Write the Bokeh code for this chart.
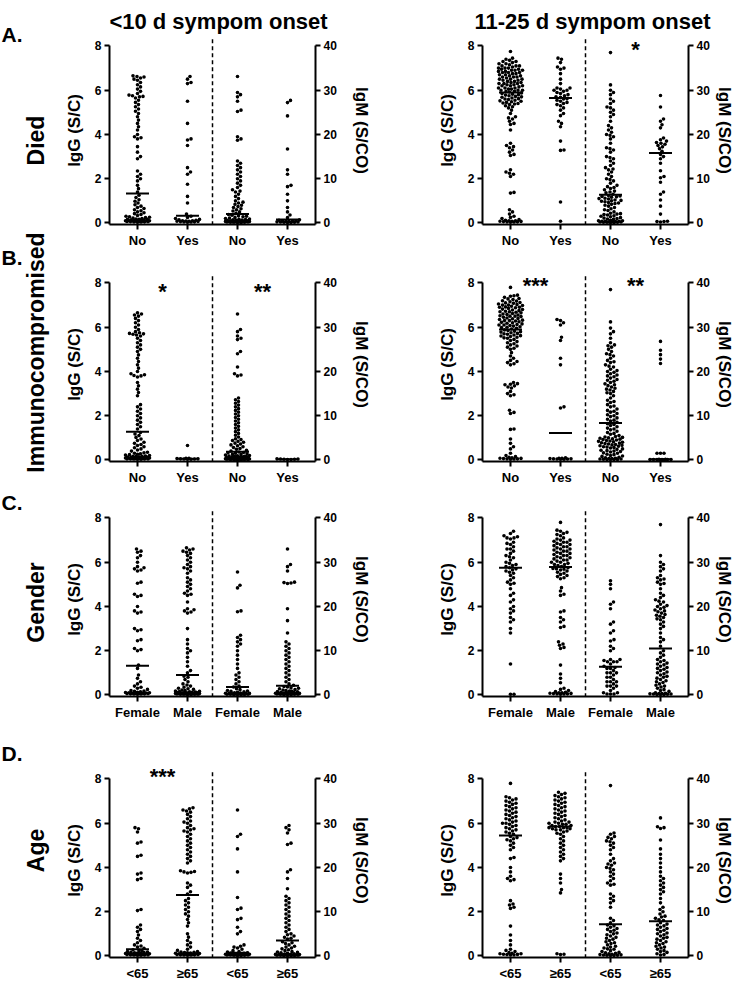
import numpy as np
from bokeh.plotting import figure
from bokeh.models import Range1d, LinearAxis, FixedTicker
from bokeh.layouts import row, column
from bokeh.core.properties import value
from bokeh.embed import file_html
from bokeh.resources import INLINE

FONT = "Liberation Sans"

# ---------------- data ----------------
column_titles = ["<10 d sympom onset", "11-25 d sympom onset"]
row_letters = ["A.", "B.", "C.", "D."]
row_names = ["Died", "Immunocompromised", "Gender", "Age"]
died_categories = ["No", "Yes", "No", "Yes"]
immuno_categories = ["No", "Yes", "No", "Yes"]
gender_categories = ["Female", "Male", "Female", "Male"]
age_categories = ["<65", "\u226565", "<65", "\u226565"]
igg_ticks = [0, 2, 4, 6, 8]
igm_ticks = [0, 10, 20, 30, 40]

# Row A: Died
died_early_igg_no = [0.03,0.04,0.05,0.05,0.06,0.06,0.07,0.07,0.08,0.08,0.09,0.09,0.1,0.1,0.1,0.11,0.12,0.12,0.13,0.14,0.15,0.16,0.17,0.18,0.2,0.22,0.24,0.26,0.28,0.3,0.34,0.38,0.42,0.46,0.5,0.55,0.6,0.65,0.7,0.76,0.82,0.9,0.98,1.05,1.15,1.25,1.4,1.55,1.7,1.9,2.0,2.1,2.2,2.35,2.9,3.0,3.2,3.45,3.8,3.85,3.9,4.0,4.2,4.35,4.5,4.65,4.8,4.95,5.05,5.15,5.25,5.35,5.45,5.55,5.65,5.7,5.72,5.75,5.78,5.85,5.95,6.05,6.15,6.25,6.35,6.45,6.5,6.55,6.6,6.62,6.65]
died_early_igg_yes = [0.03,0.04,0.05,0.05,0.06,0.07,0.08,0.08,0.09,0.1,0.1,0.12,0.14,0.16,0.2,0.25,0.3,0.4,0.9,1.2,1.75,2.2,2.3,2.5,3.5,3.75,3.8,4.5,5.5,6.3,6.35,6.5,6.62]
died_early_igm_no = [0.1,0.1,0.15,0.15,0.15,0.2,0.2,0.2,0.25,0.25,0.25,0.3,0.3,0.35,0.35,0.4,0.4,0.45,0.45,0.5,0.5,0.55,0.6,0.65,0.7,0.75,0.8,0.9,1.0,1.1,1.25,1.4,1.5,1.6,1.75,1.9,2.2,2.5,2.7,3.0,3.2,3.5,3.7,4.0,4.2,4.5,4.7,5.0,5.5,6.0,6.5,7.0,7.2,7.5,8.0,8.5,9.0,9.5,10.0,10.5,11.0,11.5,12.0,12.5,13.0,13.5,14.0,18.7,19.0,19.5,25.2,25.5,27.5,28.5,29.0,29.5,33.1]
died_early_igm_yes = [0.1,0.1,0.15,0.15,0.2,0.2,0.25,0.3,0.35,0.4,0.45,0.5,0.6,0.7,1.2,1.8,2.5,3.5,5.0,6.5,8.2,8.5,11.0,12.0,16.7,24.2,27.2,27.7]
died_late_igg_no = [0.03,0.04,0.05,0.05,0.06,0.07,0.08,0.08,0.1,0.1,0.12,0.15,0.2,0.25,0.3,0.4,0.5,0.6,1.35,1.38,2.1,2.2,2.25,2.3,2.4,3.05,3.1,3.2,3.3,3.4,3.45,3.5,3.6,4.2,4.45,4.5,4.6,4.7,4.75,4.8,4.95,5.1,5.2,5.25,5.3,5.35,5.38,5.4,5.42,5.45,5.48,5.5,5.52,5.55,5.58,5.6,5.62,5.65,5.68,5.7,5.72,5.75,5.78,5.8,5.82,5.85,5.88,5.92,5.95,5.95,6.0,6.0,6.0,6.05,6.05,6.1,6.1,6.1,6.15,6.2,6.2,6.2,6.25,6.25,6.3,6.3,6.3,6.35,6.35,6.4,6.4,6.45,6.45,6.5,6.5,6.5,6.55,6.6,6.6,6.6,6.65,6.65,6.7,6.7,6.75,6.75,6.8,6.8,6.8,6.85,6.85,6.9,6.9,6.9,6.95,6.95,7.0,7.0,7.0,7.05,7.1,7.1,7.1,7.15,7.2,7.2,7.25,7.3,7.3,7.35,7.4,7.45,7.75]
died_late_igg_yes = [0.08,0.95,3.28,3.3,3.7,4.35,4.5,4.6,4.85,4.95,5.1,5.2,5.3,5.35,5.4,5.45,5.5,5.55,5.6,5.62,5.68,5.7,5.75,5.8,5.85,5.9,5.95,6.0,6.0,6.05,6.1,6.1,6.3,6.5,6.75,6.95,7.0,7.05,7.25,7.4,7.45]
died_late_igm_no = [0.1,0.1,0.15,0.15,0.15,0.2,0.2,0.25,0.25,0.3,0.35,0.4,0.4,0.5,0.5,0.6,0.8,0.9,1.0,1.1,1.2,1.4,1.5,1.6,1.8,1.9,2.0,2.1,2.2,2.5,2.8,3.0,3.2,3.5,3.8,4.0,4.2,4.4,4.5,4.6,4.8,4.9,5.0,5.1,5.2,5.4,5.5,5.6,5.8,5.9,6.0,6.1,6.2,6.5,6.8,7.0,7.2,7.5,7.8,8.0,8.2,8.5,9.0,9.5,9.8,10.0,10.5,11.0,11.5,12.0,12.2,12.5,13.0,13.5,14.0,14.5,14.8,15.0,16.0,16.5,16.8,17.0,18.0,19.0,19.5,19.8,20.0,20.5,21.0,21.5,22.0,23.0,24.0,24.5,25.0,25.5,26.0,26.2,27.0,27.5,28.0,29.0,29.5,30.0,31.2,38.5]
died_late_igm_yes = [0.2,0.3,0.3,0.4,2.0,3.8,5.2,6.5,7.0,9.2,10.2,10.5,11.8,13.5,14.5,15.0,15.5,16.2,16.8,17.2,17.5,17.8,18.0,18.2,18.5,18.8,19.2,21.5,22.2,23.0,23.5,26.2,28.8]

# Row B: Immunocompromised
immuno_early_igg_no = [0.03,0.03,0.04,0.04,0.05,0.05,0.05,0.06,0.06,0.07,0.07,0.08,0.08,0.09,0.09,0.1,0.1,0.1,0.11,0.12,0.12,0.13,0.14,0.15,0.16,0.17,0.18,0.2,0.22,0.24,0.26,0.28,0.3,0.32,0.35,0.4,0.45,0.5,0.55,0.6,0.65,0.7,0.75,0.8,0.88,0.95,1.02,1.1,1.17,1.24,1.4,1.5,1.6,1.7,1.8,1.9,2.0,2.1,2.2,2.3,2.4,2.5,2.9,3.05,3.2,3.35,3.5,3.75,3.8,3.82,3.85,3.9,4.0,4.15,4.3,4.45,4.6,4.75,4.9,5.0,5.1,5.2,5.3,5.4,5.5,5.6,5.65,5.68,5.7,5.72,5.75,5.8,5.9,6.0,6.1,6.2,6.3,6.4,6.5,6.55,6.6,6.65]
immuno_early_igg_yes = [0.03,0.03,0.04,0.04,0.05,0.05,0.06,0.07,0.08,0.65]
immuno_early_igm_no = [0.1,0.1,0.1,0.1,0.1,0.1,0.15,0.15,0.15,0.15,0.2,0.2,0.2,0.2,0.25,0.25,0.25,0.3,0.3,0.3,0.35,0.35,0.4,0.4,0.45,0.45,0.5,0.5,0.55,0.6,0.65,0.7,0.75,0.8,0.85,0.9,0.95,1.0,1.1,1.2,1.3,1.4,1.5,1.6,1.7,1.8,2.0,2.2,2.4,2.6,2.8,3.0,3.2,3.4,3.6,3.8,4.0,4.2,4.4,4.6,4.8,5.2,5.6,6.0,6.4,6.8,7.2,7.6,8.0,8.4,8.8,9.2,9.6,10.0,10.4,10.8,11.2,11.6,12.0,12.4,12.8,13.2,13.6,14.0,19.0,19.2,19.5,21.0,24.0,24.5,27.2,27.5,28.0,29.0,29.5,33.0]
immuno_early_igm_yes = [0.1,0.1,0.15,0.15,0.2,0.2,0.25]
immuno_late_igg_no = [0.03,0.04,0.05,0.05,0.06,0.07,0.08,0.1,0.12,0.15,0.2,0.3,0.5,0.6,0.75,0.95,1.38,1.4,2.1,2.15,2.25,2.9,2.95,3.0,3.1,3.25,3.3,3.35,3.4,3.42,3.45,3.5,4.3,4.35,4.4,4.45,4.5,4.6,4.7,4.85,5.0,5.05,5.1,5.15,5.2,5.25,5.3,5.35,5.4,5.45,5.5,5.52,5.55,5.58,5.6,5.62,5.65,5.68,5.7,5.72,5.75,5.78,5.8,5.82,5.85,5.88,5.92,5.95,5.98,6.0,6.02,6.05,6.08,6.1,6.1,6.12,6.15,6.18,6.2,6.22,6.25,6.28,6.3,6.3,6.32,6.35,6.38,6.4,6.42,6.45,6.48,6.5,6.5,6.52,6.55,6.58,6.6,6.62,6.65,6.68,6.7,6.7,6.72,6.75,6.78,6.8,6.82,6.85,6.88,6.9,6.9,6.92,6.95,6.98,7.0,7.0,7.02,7.05,7.08,7.1,7.12,7.15,7.18,7.2,7.25,7.28,7.3,7.35,7.4,7.42,7.45,7.8]
immuno_late_igg_yes = [0.03,0.03,0.04,0.04,0.05,0.05,0.06,0.07,0.08,0.1,2.35,2.4,4.3,4.6,5.4,5.55,6.1,6.2,6.3,6.35]
immuno_late_igm_no = [0.1,0.1,0.1,0.1,0.15,0.2,0.2,0.3,0.3,0.4,0.5,0.6,0.8,0.9,1.0,1.2,1.3,1.5,1.6,1.8,1.9,2.0,2.1,2.2,2.4,2.5,2.7,2.8,2.9,3.0,3.1,3.2,3.3,3.4,3.5,3.6,3.7,3.8,3.9,4.0,4.1,4.2,4.3,4.4,4.5,4.6,4.7,4.8,4.9,5.0,5.1,5.2,5.3,5.5,5.8,6.0,6.2,6.5,6.8,7.0,7.2,7.5,7.8,8.0,8.2,8.5,8.8,9.0,9.2,9.5,9.8,10.0,10.2,10.5,10.8,11.0,11.2,11.5,12.0,12.2,12.5,13.0,13.2,13.5,14.0,14.5,15.0,15.2,15.5,15.8,16.0,16.2,16.5,16.8,17.0,17.2,17.5,17.8,18.0,18.2,18.5,18.8,19.0,19.2,19.5,19.8,20.0,20.2,20.5,21.0,21.2,21.5,22.0,22.2,22.5,23.0,23.5,23.8,24.0,24.5,25.0,25.5,25.8,26.0,26.5,27.5,28.5,29.0,29.8,31.2,38.5]
immuno_late_igm_yes = [0.05,0.05,0.08,0.08,0.1,0.1,0.12,0.12,0.15,0.15,1.5,1.5,1.5,21.8,22.8,23.8,24.8,26.8]

# Row C: Gender
gender_early_igg_female = [0.03,0.04,0.04,0.05,0.05,0.06,0.06,0.07,0.07,0.08,0.08,0.09,0.1,0.1,0.11,0.12,0.14,0.16,0.18,0.2,0.25,0.3,0.35,0.4,0.5,0.6,0.75,0.9,1.2,1.35,2.0,2.05,2.1,2.45,2.5,2.9,2.95,3.0,3.7,3.75,3.8,4.0,4.45,4.5,4.55,5.05,5.1,5.6,5.65,5.7,5.75,5.8,6.0,6.2,6.3,6.45,6.5,6.6]
gender_early_igg_male = [0.02,0.02,0.03,0.03,0.03,0.03,0.04,0.04,0.04,0.05,0.05,0.05,0.06,0.06,0.07,0.07,0.08,0.08,0.09,0.09,0.1,0.1,0.1,0.11,0.12,0.13,0.14,0.15,0.16,0.18,0.2,0.22,0.25,0.28,0.3,0.35,0.4,0.45,0.5,0.6,0.7,0.8,0.85,1.0,1.1,1.3,1.5,1.7,1.9,2.0,2.1,2.3,2.5,3.0,3.7,3.75,3.8,3.85,3.9,4.2,4.5,4.55,4.6,4.7,4.8,4.9,5.0,5.1,5.2,5.3,5.5,5.6,5.7,5.75,5.8,5.9,6.0,6.1,6.2,6.3,6.4,6.45,6.5,6.55,6.6,6.65]
gender_early_igm_female = [0.1,0.1,0.1,0.1,0.15,0.15,0.15,0.2,0.2,0.25,0.25,0.3,0.3,0.35,0.4,0.45,0.5,0.6,0.7,0.8,0.9,1.0,1.2,1.4,1.8,2.0,2.5,3.0,3.5,4.0,4.5,5.0,6.0,7.0,8.0,9.0,10.0,11.0,11.5,12.0,12.5,13.0,13.5,18.8,19.0,24.2,24.8,27.8]
gender_early_igm_male = [0.1,0.1,0.1,0.15,0.15,0.15,0.2,0.2,0.2,0.25,0.25,0.3,0.3,0.35,0.4,0.4,0.45,0.5,0.55,0.6,0.7,0.75,0.8,0.9,1.0,1.1,1.2,1.4,1.5,1.6,1.8,1.9,2.2,2.5,3.0,3.5,4.0,4.5,5.0,5.5,6.0,6.5,7.0,7.5,8.0,8.5,9.0,9.5,10.0,10.5,11.0,11.5,12.0,14.0,16.8,19.5,25.2,25.3,25.4,25.5,28.0,29.0,29.5,33.0]
gender_late_igg_female = [0.03,0.03,1.4,2.8,3.0,3.3,3.4,3.5,3.7,3.8,3.9,4.0,4.2,4.3,4.5,4.6,4.8,5.0,5.05,5.1,5.2,5.3,5.4,5.5,5.55,5.6,5.65,5.7,5.75,5.8,5.85,5.9,5.95,6.0,6.1,6.2,6.25,6.3,6.4,6.5,6.6,6.6,6.7,6.8,6.85,6.9,7.05,7.1,7.1,7.15,7.2,7.3,7.4]
gender_late_igg_male = [0.03,0.04,0.05,0.05,0.06,0.07,0.08,0.1,0.1,0.12,0.15,0.2,0.25,0.3,0.55,0.75,0.95,1.35,2.1,2.15,2.25,2.3,2.4,3.05,3.1,3.3,3.4,3.5,3.75,3.8,4.5,4.55,4.7,4.85,5.25,5.3,5.35,5.4,5.45,5.5,5.55,5.6,5.65,5.68,5.7,5.72,5.75,5.8,5.85,5.9,5.9,5.95,6.0,6.0,6.05,6.1,6.1,6.15,6.2,6.2,6.25,6.3,6.3,6.35,6.4,6.4,6.45,6.5,6.5,6.55,6.6,6.6,6.65,6.7,6.7,6.75,6.8,6.8,6.85,6.9,6.9,6.95,7.0,7.0,7.05,7.1,7.2,7.25,7.3,7.35,7.4,7.45,7.8]
gender_late_igm_female = [0.2,0.2,0.2,0.5,0.5,1.0,1.5,2.0,2.0,2.0,2.5,3.0,3.0,3.0,3.5,4.0,4.0,4.5,5.0,5.0,5.0,5.5,6.0,6.0,6.2,6.5,7.0,7.5,7.5,7.5,7.8,8.0,8.0,10.0,10.5,11.0,12.2,12.5,14.0,14.5,16.0,16.5,19.5,20.5,21.0,24.0,25.0,25.8]
gender_late_igm_male = [0.1,0.1,0.1,0.15,0.2,0.2,0.25,0.3,0.3,0.4,0.5,0.8,1.0,1.2,1.5,1.8,2.0,2.2,2.5,2.8,3.0,3.2,3.5,3.8,4.0,4.2,4.5,4.8,5.0,5.2,5.5,5.8,6.0,6.2,6.5,6.8,7.0,7.2,7.5,7.8,8.0,8.5,9.0,9.5,10.0,11.0,12.0,12.5,13.0,14.0,15.0,15.5,16.0,16.5,17.0,17.2,17.5,17.8,18.0,18.2,18.5,18.8,19.0,19.2,19.5,19.8,20.0,20.2,20.5,21.0,21.2,21.5,22.0,22.5,23.0,24.0,25.0,25.2,25.5,26.0,26.2,26.5,27.0,28.0,28.5,29.0,29.5,30.0,31.5,38.5]

# Row D: Age
age_early_igg_lt65 = [0.03,0.03,0.04,0.04,0.05,0.05,0.06,0.06,0.07,0.08,0.08,0.09,0.1,0.1,0.11,0.12,0.13,0.14,0.15,0.16,0.18,0.2,0.22,0.25,0.28,0.35,0.4,0.45,0.5,0.6,0.7,0.8,0.95,1.1,1.2,1.3,1.4,2.05,2.1,3.45,3.5,3.7,3.75,4.5,4.55,5.1,5.15,5.6,5.75,5.8]
age_early_igg_ge65 = [0.03,0.04,0.04,0.05,0.05,0.06,0.06,0.07,0.08,0.08,0.09,0.1,0.1,0.11,0.12,0.13,0.14,0.15,0.16,0.18,0.2,0.25,0.3,0.4,0.5,0.6,0.7,0.85,1.0,1.35,1.5,1.65,1.8,1.9,2.0,2.1,2.2,2.3,2.4,2.5,2.6,2.8,2.9,3.1,3.2,3.3,3.75,3.78,3.8,3.82,3.85,4.2,4.3,4.4,4.5,4.6,4.7,4.8,4.9,5.0,5.1,5.2,5.3,5.4,5.5,5.6,5.65,5.7,5.75,5.8,5.9,6.0,6.05,6.1,6.2,6.3,6.4,6.5,6.55,6.6,6.65,6.7]
age_early_igm_lt65 = [0.1,0.1,0.15,0.15,0.2,0.2,0.2,0.25,0.25,0.3,0.3,0.35,0.35,0.4,0.4,0.45,0.5,0.55,0.6,0.65,0.7,0.9,1.0,1.2,1.5,1.8,2.0,2.2,2.5,5.0,5.5,6.5,8.2,8.5,10.5,10.8,13.2,19.0,24.2,27.0,27.5,33.0]
age_early_igm_ge65 = [0.1,0.1,0.1,0.1,0.15,0.15,0.15,0.2,0.2,0.2,0.25,0.25,0.3,0.3,0.35,0.4,0.45,0.5,0.6,0.7,0.8,0.9,1.0,1.2,1.4,1.6,1.8,2.0,2.2,2.5,2.8,3.0,3.2,3.8,4.0,4.2,4.5,4.8,5.0,5.5,6.0,6.5,7.0,7.5,8.0,8.5,9.0,9.5,10.0,10.5,11.0,11.5,12.0,12.5,13.0,13.5,15.2,17.5,19.0,19.5,25.2,25.5,27.8,28.5,29.0,29.5]
age_late_igg_lt65 = [0.04,0.05,0.06,0.07,0.08,0.1,0.1,0.12,0.15,0.2,0.25,0.3,0.5,0.7,0.95,1.35,2.15,2.2,2.3,2.35,2.5,3.4,3.45,3.5,3.6,3.8,4.0,4.4,4.45,4.8,4.9,5.0,5.1,5.2,5.25,5.3,5.35,5.4,5.5,5.55,5.6,5.65,5.7,5.75,5.8,5.85,5.9,5.95,6.0,6.0,6.05,6.1,6.15,6.2,6.25,6.3,6.35,6.4,6.45,6.5,6.55,6.6,6.65,6.7,6.75,6.8,6.85,6.9,6.95,7.0,7.05,7.1,7.15,7.2,7.8]
age_late_igg_ge65 = [0.06,0.08,0.1,2.85,3.0,3.3,3.5,3.7,4.3,4.4,4.5,4.6,4.7,4.8,4.9,5.0,5.1,5.2,5.3,5.4,5.5,5.55,5.6,5.65,5.7,5.7,5.75,5.75,5.8,5.8,5.8,5.85,5.85,5.9,5.9,5.95,5.95,6.0,6.0,6.05,6.05,6.1,6.15,6.2,6.25,6.3,6.35,6.4,6.45,6.5,6.55,6.6,6.65,6.7,6.75,6.8,6.85,6.9,6.95,7.0,7.05,7.1,7.15,7.2,7.25,7.3,7.35,7.4]
age_late_igm_lt65 = [0.1,0.1,0.15,0.15,0.2,0.25,0.3,0.4,0.5,0.6,0.7,0.8,1.0,1.2,1.5,1.6,1.8,2.0,2.2,2.5,2.8,3.0,3.2,3.5,3.8,4.0,4.2,4.5,4.8,5.0,5.2,5.5,5.8,6.0,6.2,6.5,6.8,7.0,7.5,8.0,8.5,11.0,12.0,12.5,13.0,13.5,14.0,16.0,16.2,16.5,17.0,17.5,18.0,18.5,19.0,19.5,19.8,20.0,20.5,20.8,21.0,21.5,22.0,23.0,24.0,24.5,25.0,25.5,25.8,26.0,26.5,26.8,27.0,27.5,27.8,38.5]
age_late_igm_ge65 = [0.2,0.3,0.5,0.8,1.0,1.2,1.5,1.8,2.0,2.2,2.5,2.8,3.0,3.2,3.5,3.8,4.0,4.2,4.5,4.8,5.0,5.2,5.5,5.8,6.0,6.2,6.5,6.8,7.0,7.2,7.5,8.0,8.2,8.5,8.8,9.0,9.5,10.0,10.5,11.0,12.0,13.0,14.0,14.5,15.0,15.5,16.0,16.5,17.0,17.5,18.0,19.0,20.0,21.0,22.0,23.0,24.2,26.2,28.8,29.0,29.2,31.2]

# medians per group: [IgG grp1, IgG grp2, IgM grp1, IgM grp2]
died_early_medians = [1.33, 0.33, 2.0, 0.8]
died_late_medians = [5.9, 5.65, 6.35, 15.8]
immuno_early_medians = [1.27, 0.05, 1.85, 0.15]
immuno_late_medians = [5.9, 1.22, 8.35, 0.15]
gender_early_medians = [1.32, 0.9, 1.8, 2.1]
gender_late_medians = [5.75, 5.78, 6.4, 10.5]
age_early_medians = [0.3, 2.75, 0.75, 3.5]
age_late_medians = [5.45, 5.85, 7.15, 7.85]

# significance marks: [IgG comparison, IgM comparison]
died_early_sig = ["", ""]
died_late_sig = ["", "*"]
immuno_early_sig = ["*", "**"]
immuno_late_sig = ["***", "**"]
gender_early_sig = ["", ""]
gender_late_sig = ["", ""]
age_early_sig = ["***", ""]
age_late_sig = ["", ""]

# ---------------- layout constants ----------------
FW, FH = 206, 194
X0, X1 = -0.56, 3.56
Y0, Y1 = -0.07, 8.7
PXX = FW / (X1 - X0)
PXY = FH / (Y1 - Y0)
IGM_FACTOR = 5.0
DOT = 3.6
LABEL_W = 56
TITLE_H = 36


def swarm(vals, px_per_unit, d=3.4, wmax=12.0, step=0.5):
    vals = np.asarray(vals, float)
    order = np.argsort(vals, kind="stable")
    ys = vals[order] * px_per_unit
    cand = [0.0]
    c = step
    while c <= wmax + 1e-9:
        cand += [c, -c]
        c += step
    cand = np.array(cand)
    px, py = [], []
    for y in ys:
        x = 0.0
        if py:
            a = np.array(py)
            b = np.array(px)
            m = np.abs(a - y) < d
            if m.any():
                dy = a[m] - y
                qx = b[m]
                dist = np.sqrt((cand[:, None] - qx[None, :]) ** 2 + dy[None, :] ** 2).min(axis=1)
                ok = np.where(dist >= d)[0]
                x = cand[ok[0]] if len(ok) else cand[np.argmax(dist)]
        px.append(x)
        py.append(y)
    out = np.empty(len(vals))
    out[order] = px
    return out


def style_axis(ax, size="12px"):
    ax.axis_line_width = 2
    ax.major_tick_line_width = 2
    ax.major_tick_out = 5
    ax.major_tick_in = 0
    ax.minor_tick_line_color = None
    ax.major_label_text_font = FONT
    ax.major_label_text_font_style = "bold"
    ax.major_label_text_font_size = size
    ax.major_label_text_color = "black"
    ax.major_label_standoff = 3
    ax.axis_label_text_font = FONT
    ax.axis_label_text_font_style = "bold"
    ax.axis_label_text_font_size = "17px"
    ax.axis_label_text_color = "black"


def make_panel(groups, medians, cats, sig, star_y, left_col, b_top, b_bottom, fh):
    ml = 53 if left_col else 109
    mr = 56 if left_col else 45
    y1 = Y0 + fh / PXY
    p = figure(frame_width=FW, frame_height=fh, x_range=Range1d(X0, X1), y_range=Range1d(Y0, y1),
               output_backend="svg", toolbar_location=None,
               min_border_left=ml, min_border_right=mr, min_border_top=b_top, min_border_bottom=b_bottom)
    p.outline_line_color = None
    p.grid.visible = False
    p.extra_y_ranges = {"igm": Range1d(Y0 * IGM_FACTOR, y1 * IGM_FACTOR)}

    p.yaxis.ticker = FixedTicker(ticks=igg_ticks)
    p.yaxis.bounds = (Y0, 8)
    p.yaxis.axis_label = "IgG (S/C)"
    style_axis(p.yaxis[0])
    p.yaxis.axis_label_standoff = 8

    rax = LinearAxis(y_range_name="igm", axis_label="IgM (S/CO)", ticker=FixedTicker(ticks=igm_ticks),
                     bounds=(Y0 * IGM_FACTOR, 40))
    style_axis(rax)
    rax.axis_label_standoff = 12 if left_col else 2
    p.add_layout(rax, "right")

    p.xaxis.ticker = FixedTicker(ticks=[0, 1, 2, 3])
    p.xaxis.major_label_overrides = {i: c for i, c in enumerate(cats)}
    style_axis(p.xaxis[0], size="13px")

    for i, vals in enumerate(groups):
        igm = i >= 2
        ppu = PXY / IGM_FACTOR if igm else PXY
        offs = swarm(vals, ppu)
        xs = i + offs / PXX
        kw = dict(y_range_name="igm") if igm else {}
        p.scatter(xs, vals, size=DOT, color="black", line_width=0, **kw)
        p.segment(x0=[i - 0.23], x1=[i + 0.23], y0=[medians[i]], y1=[medians[i]],
                  line_color="black", line_width=2, **kw)

    p.segment(x0=[1.5], x1=[1.5], y0=[-0.1], y1=[8.4], line_color="black", line_width=1.5, line_dash="4 3")

    sx, sy, st = [], [], []
    for j, s in enumerate(sig):
        if s:
            sx.append(0.5 + 2 * j)
            sy.append(star_y)
            st.append(s)
    if st:
        p.text(x=sx, y=sy, text=st, text_font=value(FONT), text_font_style="bold",
               text_font_size="22px", text_align="center", text_baseline="middle", text_color="black")
    return p


panels = [
    ([died_early_igg_no, died_early_igg_yes, died_early_igm_no, died_early_igm_yes], died_early_medians, died_categories, died_early_sig, 7.85),
    ([died_late_igg_no, died_late_igg_yes, died_late_igm_no, died_late_igm_yes], died_late_medians, died_categories, died_late_sig, 7.85),
    ([immuno_early_igg_no, immuno_early_igg_yes, immuno_early_igm_no, immuno_early_igm_yes], immuno_early_medians, immuno_categories, immuno_early_sig, 7.6),
    ([immuno_late_igg_no, immuno_late_igg_yes, immuno_late_igm_no, immuno_late_igm_yes], immuno_late_medians, immuno_categories, immuno_late_sig, 7.9),
    ([gender_early_igg_female, gender_early_igg_male, gender_early_igm_female, gender_early_igm_male], gender_early_medians, gender_categories, gender_early_sig, 8.0),
    ([gender_late_igg_female, gender_late_igg_male, gender_late_igm_female, gender_late_igm_male], gender_late_medians, gender_categories, gender_late_sig, 8.0),
    ([age_early_igg_lt65, age_early_igg_ge65, age_early_igm_lt65, age_early_igm_ge65], age_early_medians, age_categories, age_early_sig, 8.1),
    ([age_late_igg_lt65, age_late_igg_ge65, age_late_igm_lt65, age_late_igm_ge65], age_late_medians, age_categories, age_late_sig, 8.1),
]
# (border_top, border_bottom, frame_height) per row
row_geom = [(0, 23, 188), (17, 26, FH), (15, 24, FH), (41, 23, FH)]

rows = []
for r in range(4):
    bt, bb, fh = row_geom[r]
    left = make_panel(*panels[2 * r], True, bt, bb, fh)
    right = make_panel(*panels[2 * r + 1], False, bt, bb, fh)
    rows.append(row(left, right))

# column titles strip (page coords, x 64..739, y 8..44)
tfig = figure(width=731 - LABEL_W, height=TITLE_H, x_range=Range1d(8 + LABEL_W, 739),
              y_range=Range1d(-(8 + TITLE_H), -8),
              x_axis_type=None, y_axis_type=None, output_backend="svg", toolbar_location=None,
              min_border=0)
tfig.outline_line_color = None
tfig.grid.visible = False
tfig.text(x=[226, 600], y=[-29, -29], text=column_titles, text_font=value(FONT), text_font_style="bold",
          text_font_size="22px", text_align="center", text_baseline="alphabetic", text_color="black")

# row labels strip (page coords, x 8..64, y 8..983)
lfig = figure(width=LABEL_W, height=975, x_range=Range1d(8, 8 + LABEL_W), y_range=Range1d(-983, -8),
              x_axis_type=None, y_axis_type=None, output_backend="svg", toolbar_location=None,
              min_border=0)
lfig.outline_line_color = None
lfig.grid.visible = False
letter_y = [42, 265, 510, 761]
name_y = [148, 360, 610, 858]
lfig.text(x=[9] * 4, y=[-v for v in letter_y], text=row_letters, text_font=value(FONT), text_font_style="bold",
          text_font_size="21px", text_align="left", text_baseline="middle", text_color="black")
lfig.text(x=[43] * 4, y=[-v for v in name_y], text=row_names, angle=np.pi / 2, text_font=value(FONT),
          text_font_style="bold", text_font_size="23px", text_align="center", text_baseline="middle",
          text_color="black")

layout = row(lfig, column(tfig, *rows))
open("out.html", "w", encoding="utf-8").write(file_html(layout, INLINE))
